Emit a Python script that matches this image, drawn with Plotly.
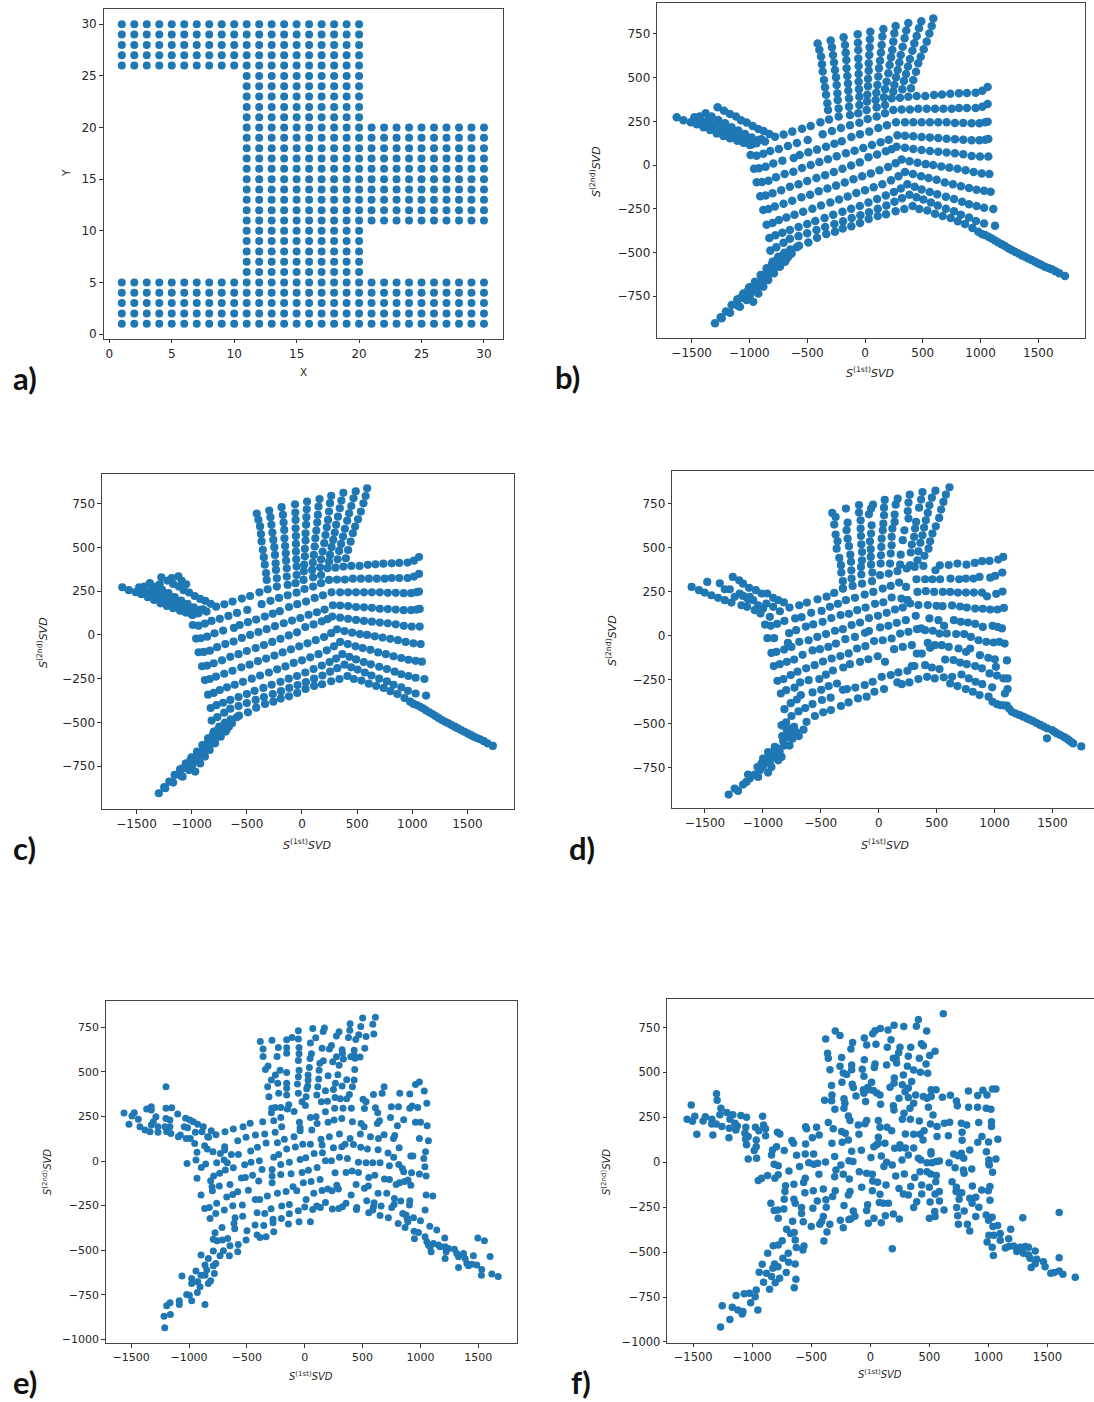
import plotly.graph_objects as go

W, H = 1094, 1402
BLUE = "#1f77b4"

# ---------- panel a: grid
X_ALL = [1,2,3,4,5,6,7,8,9,10,11,12,13,14,15,16,17,18,19,20,21,22,23,24,25,26,27,28,29,30]
X_MID = [11,12,13,14,15,16,17,18,19,20]
X_TOP = [1,2,3,4,5,6,7,8,9,10,11,12,13,14,15,16,17,18,19,20]
X_RIGHT = [11,12,13,14,15,16,17,18,19,20,21,22,23,24,25,26,27,28,29,30]
Y_BOTTOM = [1,2,3,4,5]
Y_NECK1 = [6,7,8,9,10]
Y_WING = [11,12,13,14,15,16,17,18,19,20]
Y_NECK2 = [21,22,23,24,25]
Y_TOPBAND = [26,27,28,29,30]

# ---------- panel b (and c): rows, arms
B_row1 = [(-779,162),(-704,175),(-629,191),(-545,208),(-470,223),(-386,244),(303,385),(375,391),(447,395),(522,395),(597,401),(666,404),(738,408),(813,410),(882,412),(957,414),(1015,425),(1061,446)]
B_row2 = [(-990,57),(-938,53),(-880,65),(-820,80),(-745,92),(-667,109),(-589,126),(-496,143),(-366,176),(-286,195),(-208,212),(-130,227),(-49,242),(23,263),(101,277),(173,296),(245,315),(317,317),(389,317),(461,322),(534,322),(606,322),(678,322),(750,322),(813,326),(882,326),(957,326),(1015,334),(1061,349)]
B_row3 = [(-960,-21),(-917,-19),(-860,-10),(-793,9),(-715,25),(-617,40),(-565,57),(-490,73),(-415,88),(-337,105),(-265,122),(-201,136),(-118,160),(-43,176),(37,191),(115,212),(190,227),(268,244),(346,244),(418,244),(490,244),(562,244),(634,244),(706,244),(778,241),(850,241),(922,239),(990,239),(1040,245),(1061,248)]
B_row4 = [(-937,-99),(-890,-97),(-835,-90),(-770,-70),(-695,-52),(-620,-38),(-545,-17),(-470,0),(-395,17),(-320,33),(-245,50),(-165,67),(-90,82),(-15,97),(60,115),(135,130),(205,145),(280,170),(346,168),(418,165),(490,160),(562,158),(634,155),(706,150),(778,148),(850,145),(922,142),(990,142),(1040,145),(1067,149)]
B_row5 = [(-906,-179),(-860,-175),(-800,-162),(-725,-145),(-650,-125),(-575,-110),(-500,-92),(-420,-75),(-345,-58),(-270,-40),(-195,-22),(-120,-3),(-45,15),(30,45),(105,60),(180,78),(230,90),(274,105),(346,99),(418,92),(490,86),(562,80),(634,76),(706,71),(778,67),(850,61),(923,52),(995,48),(1067,48)]
B_row6 = [(-880,-258),(-835,-252),(-780,-238),(-705,-222),(-630,-205),(-550,-185),(-475,-170),(-400,-150),(-325,-135),(-250,-118),(-175,-100),(-100,-82),(-25,-65),(50,-48),(125,-30),(200,-12),(265,10),(317,32),(385,22),(455,13),(525,5),(590,0),(660,-8),(730,-15),(800,-22),(870,-30),(940,-40),(1010,-48),(1076,-52)]
B_row7 = [(-851,-342),(-800,-332),(-745,-315),(-680,-300),(-610,-285),(-535,-268),(-455,-250),(-380,-232),(-300,-215),(-225,-197),(-150,-180),(-75,-160),(0,-145),(75,-128),(150,-110),(225,-88),(290,-65),(346,-40),(415,-52),(485,-65),(550,-75),(620,-85),(690,-100),(760,-110),(830,-122),(900,-132),(965,-142),(1030,-148),(1087,-153)]
B_row8 = [(-828,-418),(-775,-402),(-715,-388),(-650,-372),(-575,-355),(-500,-338),(-430,-320),(-350,-303),(-275,-285),(-195,-268),(-120,-250),(-45,-235),(30,-215),(105,-195),(180,-175),(250,-155),(310,-135),(366,-110),(430,-125),(490,-140),(560,-155),(625,-168),(700,-182),(770,-195),(840,-210),(900,-225),(965,-235),(1030,-245),(1110,-252)]
B_row9 = [(-819,-490),(-767,-470),(-705,-445),(-650,-422),(-575,-407),(-500,-390),(-420,-372),(-345,-355),(-265,-338),(-190,-322),(-115,-303),(-40,-287),(35,-270),(110,-250),(185,-232),(255,-210),(320,-190),(385,-170),(445,-185),(505,-198),(570,-215),(630,-232),(700,-250),(770,-265),(830,-285),(900,-300),(960,-320),(1030,-335),(1125,-347)]
B_row10 = [(-571,-462),(-490,-443),(-415,-416),(-335,-395),(-260,-382),(-193,-364),(-118,-351),(-43,-332),(32,-309),(110,-292),(182,-282),(265,-265),(340,-252),(412,-235),(470,-252),(539,-261),(606,-279),(672,-292),(741,-303),(802,-322),(865,-338),(929,-361),(980,-382),(1038,-401),(1096,-420),(1154,-443),(1211,-464),(1269,-487),(1327,-506),(1384,-525),(1442,-544),(1500,-563),(1557,-582),(1615,-597),(1681,-620),(1730,-635)]
B_arm2 = [(1010,-395),(1068,-410),(1125,-432),(1182,-453),(1240,-476),(1298,-497),(1355,-516),(1413,-535),(1471,-554),(1528,-572),(1586,-590),(1648,-608)]
B_top = [(-410,695),(-395,659),(-380,621),(-372,577),(-366,535),(-355,487),(-346,445),(-337,402),(-326,354),(-320,315),(-311,261),
(-297,712),(-286,674),(-277,630),(-268,586),(-260,544),(-251,502),(-245,458),(-239,410),(-236,372),(-228,324),(-228,277),
(-185,731),(-173,687),(-167,643),(-161,601),(-159,553),(-153,509),(-147,467),(-144,425),(-138,381),(-138,334),(-130,286),
(-63,748),(-61,700),(-58,658),(-58,610),(-55,566),(-55,521),(-55,477),(-52,433),(-49,391),(-49,343),(-58,296),
(46,763),(43,719),(40,674),(37,630),(32,582),(32,540),(26,493),(26,450),(20,402),(17,364),(14,315),
(159,778),(150,735),(144,687),(138,643),(130,597),(121,553),(115,506),(107,458),(98,414),(92,372),(101,330),
(265,796),(254,754),(245,706),(236,658),(225,616),(213,572),(202,525),(187,477),(173,433),(164,387),(173,343),
(375,813),(357,769),(343,725),(326,677),(309,630),(297,586),(283,544),(268,502),(254,458),(245,420),(231,382),
(487,822),(467,782),(447,738),(427,696),(410,654),(389,607),(372,563),(355,521),(337,481),(323,433),
(591,839),(577,795),(557,753),(534,706),(508,662),(482,620),(461,582),(441,534),(418,486),(398,439)]
B_left = [(-1275,330),(-1220,311),(-1168,292),(-1116,277),(-1073,256),(-1024,243),(-972,223),(-923,206),(-877,195),(-828,178),
(-1379,296),(-1327,277),(-1269,258),(-1211,239),(-1154,216),(-1096,197),(-1038,178),(-981,158),(-923,143),(-865,134),
(-1476,273),(-1421,254),(-1364,229),(-1312,210),(-1254,191),(-1197,172),(-1139,158),(-1082,143),(-1024,128),(-981,118),(-938,124),
(-1629,273),(-1571,256),(-1508,245),(-1456,233),(-1398,216),(-1341,200),(-1283,181),(-1225,166),(-1168,153),(-1105,139),(-1053,128),(-996,114),
(-1430,277),(-1358,258),(-1300,235),(-1242,216),(-1185,197),(-1127,181),(-1070,162),(-1012,147),(-955,134),(-897,147)]
B_foot = [(-1298,-906),(-1249,-871),(-1203,-839),(-1154,-801),(-1105,-769),(-1053,-735),(-1001,-700),(-952,-668),(-903,-630),(-851,-591),(-799,-553),(-750,-525),(-698,-502),(-646,-483),
(-1240,-877),(-1168,-845),(-1096,-807),(-1024,-773),(-967,-782),(-923,-735),(-880,-696),(-837,-658),(-788,-620),(-736,-582),(-684,-544),(-635,-506),(-591,-471),
(-1082,-763),(-1010,-715),(-952,-677),(-894,-639),(-851,-610),(-808,-572),(-764,-544),(-707,-515),
(-1082,-811),(-1024,-763),(-981,-725),(-932,-693),(-880,-658),(-828,-624),(-771,-582),(-721,-553),(-663,-525),
(-995,-744),(-943,-712),(-894,-673),(-851,-639),(-793,-601),(-750,-572),(-692,-553)]
B_pts = B_row1+B_row2+B_row3+B_row4+B_row5+B_row6+B_row7+B_row8+B_row9+B_row10+B_arm2+B_top+B_left+B_foot
C_extra = [(-1180,325),(-1120,335),(-1290,290),(-1090,310),(-1050,290)]
C_pts = B_pts + C_extra

# ---------- panel d
D_top = [(-401,697),(-372,674),(-384,631),(-372,574),(-355,536),(-340,441),(-363,494),(-326,400),(-323,358),(-309,309),(-309,267),
(-283,722),(-268,642),(-277,599),(-268,551),(-257,508),(-245,460),(-239,419),(-236,371),(-234,324),(-225,282),
(-170,742),(-170,699),(-156,655),(-156,608),(-153,566),(-150,519),(-144,475),(-144,428),(-153,390),(-150,347),(-144,295),
(-49,744),(-66,722),(-84,689),(-61,627),(-66,580),(-75,536),(-69,491),(-69,447),(-66,403),(-55,358),(-58,309),
(52,771),(46,727),(46,684),(40,636),(35,598),(26,551),(23,504),(20,456),(17,409),(12,343),
(164,778),(147,744),(138,688),(138,646),(118,608),(112,561),(112,513),(104,466),(98,409),(87,352),
(268,801),(257,756),(251,708),(257,665),(222,598),(208,542),(190,460),(185,403),(162,366),
(378,816),(366,773),(349,727),(323,646),(314,608),(306,561),(286,517),(277,472),(271,400),(242,381),
(490,824),(459,784),(438,741),(424,697),(407,655),(392,614),(378,570),(360,527),(343,479),(335,428),(311,390),
(611,843),(580,801),(559,760),(539,716),(522,669),(493,621),(464,580),(444,536),(430,494),(395,453),(386,396)]
D_right = [(490,371),(528,399),(605,401),(680,409),(758,403),(830,413),(893,423),(957,424),(1032,432),(1075,447),
(326,320),(401,320),(464,320),(530,320),(620,324),(695,320),(753,324),(819,324),(871,333),(963,329),(1006,339),(1067,358),
(335,248),(407,252),(479,248),(554,248),(617,248),(684,244),(753,244),(822,244),(892,244),(935,223),(1015,237),(1069,250),
(248,201),(271,182),(343,173),(424,173),(499,169),(551,167),(634,171),(703,165),(761,159),(833,153),(899,152),(963,148),(1026,148),(1081,157),
(320,112),(438,97),(516,87),(649,87),(709,78),(770,74),(833,66),(899,49),(983,55),(1026,49),(1064,40),(565,55),
(331,36),(366,40),(400,30),(467,27),(525,11),(588,11),(669,8),(738,8),(796,-8),(862,-27),(929,-36),(992,-40),(1041,-36),(1087,-46),
(329,-103),(372,-103),(424,-42),(444,-70),(487,-55),(545,-55),(605,-65),(689,-74),(755,-93),(790,-74),(874,-112),(946,-127),(1003,-135),(1107,-142),
(401,-169),(459,-182),(525,-191),(574,-137),(646,-140),(703,-154),(761,-163),(833,-174),(891,-187),(957,-216),(1012,-178),(1021,-228),(1078,-244),(1113,-244),
(343,-248),(418,-235),(484,-244),(562,-238),(634,-235),(715,-222),(778,-244),(836,-263),(894,-277),(980,-295),(1090,-330),(1113,-305),
(617,-273),(680,-288),(752,-305),(813,-320),(871,-339),(949,-348),(983,-377),(1049,-396),(1107,-399),(1150,-434),(1217,-453),(1280,-472),(1332,-487),(1395,-509),(1453,-528),(1496,-538),(1540,-557),(1597,-576),(1641,-595),(1679,-614),(1749,-631),(1453,-585),
(1020,-390),(1078,-398),(1128,-417),(1184,-444),(1248,-462),(1306,-480),(1364,-498),(1424,-518),(1518,-548),(1568,-566),(1620,-585),(1660,-605)]
D_left = [(-770,159),(-686,172),(-620,187),(-528,206),(-450,221),(-384,242),(-309,267),
(-981,62),(-932,55),(-877,66),(-814,83),(-721,97),(-666,104),(-583,129),(-493,140),(-421,163),(-352,180),(-283,201),(-205,214),(-121,233),(-46,248),(35,267),(104,282),(176,301),(236,276),
(-961,-15),(-903,-15),(-773,13),(-713,30),(-629,51),(-565,63),(-484,78),(-409,99),(-329,116),(-257,123),(-185,144),(-113,159),(-32,180),(40,189),(112,216),(196,210),
(-926,-99),(-883,-93),(-816,-80),(-784,-42),(-753,-65),(-686,-36),(-605,-27),(-530,-8),(-455,8),(-378,27),(-309,36),(-234,59),(-161,74),(-84,99),(-6,112),(69,129),(141,148),(208,159),(248,201),
(-906,-174),(-854,-163),(-793,-150),(-730,-137),(-657,-110),(-571,-85),(-507,-78),(-435,-65),(-369,-46),(-288,-21),(-205,-8),(-118,15),(-84,25),(12,46),(84,55),(156,72),(234,87),
(-874,-258),(-822,-248),(-759,-225),(-701,-206),(-626,-187),(-553,-169),(-481,-148),(-406,-131),(-331,-117),(-259,-102),(-187,-74),(-115,-61),(-40,-32),(35,-27),(112,-17),(185,11),(257,21),
(-845,-330),(-799,-311),(-727,-297),(-678,-267),(-605,-254),(-513,-248),(-456,-223),(-395,-199),(-306,-182),(-248,-163),(-161,-150),(-89,-135),(-9,-118),(55,-150),(133,-78),(208,-65),(286,-55),
(-814,-419),(-759,-385),(-707,-364),(-672,-339),(-571,-324),(-496,-309),(-432,-288),(-360,-273),(-309,-309),(-274,-305),(-202,-296),(-121,-282),(-52,-263),(26,-235),(104,-225),(170,-210),(248,-201),(286,-174),(308,-174),
(-828,-510),(-799,-494),(-753,-458),(-692,-432),(-634,-413),(-571,-390),(-490,-367),(-415,-354),
(-623,-491),(-551,-458),(-479,-437),(-413,-424),(-326,-401),(-260,-381),(-179,-358),(-104,-348),(-37,-320),(46,-305),(161,-267),(199,-277),(265,-267)]
D_arm = [(-1615,276),(-1552,258),(-1503,244),(-1480,305),(-1445,229),(-1387,214),(-1372,297),(-1329,263),(-1329,201),(-1271,187),(-1286,263),(-1260,333),(-1205,314),(-1171,295),(-1119,271),(-1061,258),(-1012,239),(-963,239),(-911,214),(-868,201),(-819,188),(-1200,239),(-1185,172),(-1128,206),(-1136,163),(-1084,201),(-1070,144),(-1021,125),(-970,182),(-940,106),(-998,153),(-911,163),(-853,138),(-1243,220),(-1171,225),(-1113,220),(-1041,172),
(-1295,-905),(-1243,-871),(-1214,-884),(-1171,-848),(-1142,-833),(-1128,-791),(-1113,-814),(-1070,-791),(-1041,-805),(-1047,-748),(-1012,-729),(-998,-700),(-955,-663),(-955,-780),(-926,-748),(-911,-691),(-897,-634),(-868,-710),(-839,-691),(-833,-572),(-796,-530),(-770,-626),(-756,-530),(-713,-549),(-690,-572),(-649,-536),(-816,-626),(-1026,-767),(-969,-719),(-926,-672),(-882,-682),(-810,-568),(-744,-587),(-839,-511),
(-1000,-745),(-975,-700),(-940,-725),(-905,-660),(-880,-640),(-855,-660),(-825,-600),(-790,-580),(-770,-560),(-730,-520)]
D_pts = D_top+D_right+D_left+D_arm

# ---------- panel e
E_upper = [(611,806),(501,802),(588,767),(484,754),(392,770),(389,733),(170,746),(159,727),(69,744),(-55,731),(597,712),(297,725),(274,701),(378,693),(467,709),(441,682),(530,699),(95,691),(49,662),(-55,684),(-110,693),(-156,680),(-283,677),(-384,671),(-49,637),(-228,637),(-156,635),(-360,628),(-360,587),(-239,587),(-156,604),(150,632),(231,648),(213,628),(323,624),(427,622),(519,632),(427,592),(-49,602),(58,602),(46,575),(-55,564),(326,604),(478,583),(435,576),(398,585),(274,585),(334,572),(242,557),(161,563),(130,548),(297,537),(-317,533),(-340,514),(-213,510),(-254,482),(-156,497),(-49,510),(40,525),(124,510),(432,514),(202,479),(-55,473),(29,482),(286,484),(-156,437),(-288,454),(-233,436),(-63,432),(29,454),(121,460),(363,456),(427,454),(-320,417),(-156,409),(26,421),(112,417),(265,436),(323,421),(412,417),(179,394),(248,402),(-55,380),(17,406),(-225,380),(-156,370),(-309,361),(12,361),(104,370),(262,357),(308,350),(363,350),(386,374),(-23,333),(144,333),(196,336),(594,374),(669,380),(686,417),(821,380),(908,376),(957,430),(991,443),(1033,393),(6,312),(-138,316),(1055,324),(504,346),(530,333),(516,295),(611,299),(631,271),(749,305),(810,305),(908,296),(977,301),(928,309),(-285,296),(-256,301),(-207,301),(-288,271),(-150,292),(-92,278),(179,277),(259,296),(331,296),(403,296),(741,245),(646,226),(628,211),(855,232),(957,217),(1001,217),(1058,198),(-207,245),(49,245),(98,249),(107,211),(-268,226),(-363,221),(-472,212),(-533,193),(-46,217),(202,217),(254,230),(320,239),(412,221),(487,211),(513,193),(801,198),(-199,193),(-617,180),(-689,165),(-40,170),(61,174),(-40,187)]
E_mid = [(-256,161),(-346,152),(-426,146),(-507,133),(-579,114),(-767,148),(-831,133),(-808,170),(-92,136),(-176,123),(213,137),(141,123),(300,152),(392,127),(481,152),(568,137),(637,127),(686,148),(778,144),(767,127),(991,127),(1069,114),(-334,101),(-236,103),(-409,77),(-467,56),(-573,37),(-634,37),(-692,80),(-692,62),(-865,86),(-842,67),(-931,49),(-793,52),(-729,43),(-156,67),(-81,79),(-17,95),(49,95),(150,90),(248,75),(320,80),(349,95),(421,93),(484,77),(542,67),(634,64),(816,75),(720,45),(769,21),(917,28),(935,28),(1044,52),(1029,15),(81,43),(153,47),(300,21),(369,15),(-268,21),(-225,37),(-40,9),(9,19),(179,2),(231,2),(464,-7),(530,-9),(588,-9),(651,-9),(732,-26),(813,-19),(844,-41),(855,-60),(923,-65),(1038,-32),(991,-73),(1049,-84),(-392,2),(-464,-7),(-519,-21),(-207,-19),(-133,-7),(107,-36),(-697,6),(-669,-9),(-761,-9),(-856,-17),(-894,-36),(-940,6),(-1017,-13),(-617,-37),(-369,-47),(-282,-47),(32,-52),(-23,-64),(-118,-71),(-207,-75),(-282,-84),(262,-65),(357,-64),(409,-56),(464,-64),(605,-80),(553,-92),(-686,-50),(-735,-69),(-787,-84),(-813,-110),(-931,-97),(-450,-80),(-513,-92),(-547,-95),(-398,-112),(-282,-122),(-12,-122),(55,-114),(133,-103),(689,-101),(732,-103),(790,-131),(818,-122),(862,-114),(893,-106),(917,-136),(-646,-131),(-738,-140),(-801,-144),(-798,-167),(444,-131),(550,-140),(516,-153),(-101,-144),(-69,-166),(-487,-163),(-579,-172),(-622,-187),(-674,-202),(-896,-191),(-236,-181),(-161,-170),(78,-181),(150,-165),(199,-157),(236,-166),(291,-157),(277,-135),(401,-191),(634,-181),(709,-181),(1049,-191),(1107,-196),(12,-215),(-427,-215),(-389,-215),(-323,-196),(775,-210),(830,-224),(908,-223),(536,-223),(599,-234)]
E_lower = [(-761,-237),(-865,-266),(-824,-260),(-539,-247),(-622,-251),(-199,-252),(-133,-243),(0,-258),(104,-252),(179,-232),(69,-271),(135,-260),(357,-237),(326,-256),(294,-266),(239,-269),(594,-256),(660,-252),(772,-243),(752,-260),(905,-247),(450,-260),(447,-271),(-695,-275),(-769,-294),(1040,-275),(-412,-290),(-346,-294),(-291,-267),(-133,-295),(-55,-279),(553,-290),(588,-275),(651,-305),(723,-318),(847,-294),(876,-303),(-818,-322),(-536,-309),(-602,-318),(-274,-327),(-202,-322),(885,-322),(940,-318),(1000,-335),(-49,-340),(49,-340),(-141,-353),(-274,-346),(-611,-350),(-429,-359),(-354,-361),(807,-350),(867,-372),(1081,-365),(891,-340),(-715,-372),(-605,-380),(-499,-391),(-775,-402),(-268,-396),(1141,-387),(945,-393),(983,-400),(-412,-415),(-386,-428),(-334,-424),(948,-436),(1040,-424),(-507,-443),(-790,-439),(-758,-447),(-712,-443),(-666,-434),(1055,-453),(1496,-432),(1553,-447),(1210,-432),(-574,-468),(-646,-475),(1069,-471),(1112,-462),(1156,-471),(1213,-481),(-790,-505),(-703,-503),(-579,-509),(1084,-481),(1170,-481),(1242,-490),(1294,-494),(-896,-527),(-732,-531),(-651,-531),(1092,-509),(1222,-509),(1314,-518),(1372,-518),(1458,-531),(1602,-535),(1213,-546),(1329,-537),(1386,-546),(-833,-546),(-769,-574),(-790,-587),(-862,-583),(1401,-574),(1444,-578),(1487,-583),(1329,-597),(-940,-617),(-847,-611),(-896,-640),(-781,-630),(1530,-608),(1415,-587),(1527,-640),(1617,-634),(1672,-647),(-1061,-645),(-977,-658),(-862,-640),(-977,-686),(-925,-677),(-813,-671),(-833,-686),(-905,-705),(-928,-737),(-1020,-748),(-997,-752),(-977,-784),(-1084,-784),(-1084,-804),(-1164,-795),(-1193,-812),(-862,-804),(-1216,-870),(-1161,-860),(-1210,-935)]
E_arm = [(-1562,270),(-1473,271),(-1493,253),(-1519,206),(-1438,234),(-1424,193),(-1380,174),(-1337,165),(-1326,202),(-1366,292),(-1326,305),(-1326,286),(-1199,296),(-1150,299),(-1199,417),(-1098,264),(-1286,249),(-1309,221),(-1268,193),(-1268,161),(-1199,239),(-1165,230),(-1208,193),(-1165,193),(-1193,165),(-1156,155),(-1092,137),(-1029,240),(-992,230),(-963,221),(-925,206),(-876,193),(-1041,193),(-1012,187),(-1075,146),(-1024,127),(-989,127),(-951,99),(-945,161),(-888,165),(-839,137)]
E_all = E_upper + E_mid + E_lower + E_arm

# ---------- panel f
F_body = [(618,827),(407,794),(390,757),(283,755),(201,763),(477,731),(150,736),(85,745),(40,732),(20,715),(-297,730),(-257,705),(-378,686),(-51,692),(175,682),(-150,667),(-31,652),(48,657),(432,659),(251,640),(144,640),(-164,631),(342,640),(449,648),(548,618),(503,594),(-362,607),(-356,579),(-243,583),(322,590),(240,609),(218,579),(195,579),(415,579),(-51,570),(223,553),(40,547),(138,542),(472,547),(-257,534),(-158,542),(314,535),(34,527),(-342,515),(-158,515),(-68,518),(367,514),(424,501),(486,495),(-229,497),(-201,488),(-54,479),(280,486),(203,469),(-240,445),(11,445),(350,449),(-328,427),(-153,434),(201,440),(167,418),(-23,416),(-144,416),(271,431),(322,414),(515,403),(557,403),(831,397),(953,401),(1035,408),(1063,408),(-59,404),(-8,404),(26,399),(54,386),(-325,375),(-54,384),(294,393),(-121,369),(82,375),(909,371),(988,375),(322,360),(384,375),(449,366),(514,367),(610,362),(678,373),(-387,345),(-328,343),(-223,354),(243,356),(480,356),(514,366),(-40,338),(729,341),(-215,328),(87,323),(195,315),(367,328),(737,315),(832,306),(908,306),(981,301),(1021,295),(-1302,381),(-1297,345),(-1516,319),(-300,295),(-223,301),(200,291),(492,306),(336,301),(531,263),(285,273),(-186,258),(-172,232),(271,239),(339,239),(415,230),(627,217),(672,223),(771,217),(816,208),(918,221),(1026,226),(1026,199),(-356,221),(-102,208),(-31,232),(-45,215),(68,232),(82,195),(509,213),(565,199),(141,195),(181,176),(-548,198),(-540,186),(-455,195),(-314,186),(-243,171),(-212,162),(455,176),(421,156),(367,156),(297,158),(-96,156),(777,167),(-786,167),(-766,158),(-433,152),(-491,137),(68,139),(565,143),(661,147),(777,122),(1080,128),(945,143),(910,111),(1001,113),(-186,124),(-238,111),(-325,106),(-664,121),(-650,106),(-548,102),(68,106),(124,106),(54,97),(446,124),(251,97),(206,78),(30,87),(251,80),(297,80),(367,80),(-794,87),(-828,69),(-729,65),(842,69),(983,59),(-158,61),(-76,67),(-551,46),(-480,46),(-624,39),(514,59),(514,46),(322,41),(93,35),(6,26),(-302,32),(-836,41),(706,46),(771,50),(743,37),(791,22),(407,22),(427,13),(-1034,18),(1063,18),(1004,13),(1004,-9),(268,13),(-379,2),(-181,9),(-147,4),(-521,-2),(-478,-11),(-446,-6),(-814,-11),(-780,-19),(-599,-24),(667,-2),(718,-30),(480,-2),(522,-2),(558,4),(585,7),(138,0),(115,-24),(186,-15),(1007,-15),(-249,-15),(-291,-43),(-689,-48),(-93,-52),(-31,-61),(17,-67),(859,-37),(788,-43),(794,-61),(1035,-56),(421,-52),(480,-52),(511,-65),(559,-74),(-780,-70),(-808,-89),(-870,-74),(-921,-89),(-949,-102),(288,-65),(215,-76),(376,-85),(-229,-67),(-302,-80),(-178,-93),(20,-104),(62,-111),(-435,-67),(-551,-89),(-565,-113),(554,-108),(692,-108),(-647,-122),(-718,-130),(133,-126),(-73,-139),(243,-146),(342,-135),(435,-126),(500,-139),(729,-139),(726,-163),(864,-132),(943,-154),(1013,-135),(999,-159),(-398,-148),(-297,-158),(17,-158),(-723,-163),(-554,-169),(-483,-158),(-172,-163),(-186,-182),(82,-178),(280,-176),(322,-182),(435,-176),(584,-163),(548,-176),(751,-169),(774,-169),(-319,-191),(-647,-206),(-729,-206),(-449,-215),(-376,-209),(752,-206),(842,-200),(893,-195),(1013,-211),(-842,-228),(-814,-269),(-785,-265),(393,-219),(506,-221),(585,-215),(862,-228),(76,-224),(110,-228),(153,-228),(-23,-237),(-31,-269),(-223,-241),(-636,-228),(-582,-252),(-732,-260),(-373,-250),(-486,-256),(367,-252),(731,-252),(919,-250),(-582,-285),(624,-265),(795,-271),(545,-274),(1599,-280),(-144,-271),(-780,-311),(-568,-331),(127,-297),(195,-288),(-130,-300),(-167,-315),(31,-311),(-398,-302),(-412,-330),(-181,-319),(246,-315),(740,-298),(893,-302),(981,-293),(1032,-306),(548,-302),(500,-311),(1001,-322),(-658,-328),(-254,-322),(-17,-339),(93,-336),(-428,-345),(-343,-345),(-500,-358),(-229,-365),(746,-345),(822,-345),(1078,-352),(1291,-308),(1038,-358),(842,-382),(1189,-373),(-709,-373),(-644,-391),(-675,-397),(-367,-388),(1100,-397),(-746,-436),(-636,-432),(-393,-438),(1004,-406),(1046,-406),(1100,-434),(989,-444),(1172,-425),(-822,-465),(-780,-460),(-562,-466),(-627,-474),(-571,-488),(186,-481),(1143,-477),(1172,-469),(1214,-466),(1032,-473),(1268,-473),(1311,-469),(1339,-473),(1396,-494),(-869,-506),(-695,-506),(1240,-497),(1296,-506),(1339,-516),(1353,-534),(1410,-540),(1599,-531),(1042,-519),(-740,-534),(-692,-556),(-636,-566),(1466,-553),(1396,-564),(1362,-586),(1480,-582),(-915,-568),(-811,-566),(-825,-590),(-782,-581),(-712,-614),(-941,-612),(-879,-618),(-836,-636),(-768,-645),(1599,-605),(1528,-618),(1557,-614),(1631,-623),(1735,-640),(-904,-668),(-805,-670),(-630,-651),(-853,-707),(-644,-698),(-966,-711),(-1136,-742),(-1068,-731),(-1023,-729),(-975,-748),(-1013,-781),(-1254,-798),(-1169,-807),(-1121,-822),(-1079,-831),(-1085,-844),(-952,-822),(-1189,-875),(-1268,-917)]
F_arm = [(-1551,240),(-1486,256),(-1506,228),(-1416,230),(-1397,254),(-1342,239),(-1342,213),(-1305,213),(-1257,199),(-1469,156),(-1333,152),(-1265,301),(-1274,264),(-1215,277),(-1164,264),(-1096,260),(-1048,251),(-912,256),(-1189,239),(-1194,189),(-1197,137),(-1147,217),(-1127,202),(-1138,180),(-1054,195),(-1062,162),(-1034,143),(-973,195),(-904,208),(-887,186),(-887,147),(-966,124),(-944,176),(-1048,97),(-983,65),(-963,22),(-1056,128),(-966,87)]
F_pts = F_body + F_arm

# ---------- axis tick values
X_TICKS_A = [0,5,10,15,20,25,30]
Y_TICKS_A = [0,5,10,15,20,25,30]
X_TICKS_S = [-1500,-1000,-500,0,500,1000,1500]
Y_TICKS_S = [-750,-500,-250,0,250,500,750]
Y_TICKS_L = [-1000,-750,-500,-250,0,250,500,750]

A_x = [x for x in X_ALL for y in Y_BOTTOM] + [x for x in X_MID for y in Y_NECK1] + [x for x in X_RIGHT for y in Y_WING] + [x for x in X_MID for y in Y_NECK2] + [x for x in X_TOP for y in Y_TOPBAND]
A_y = [y for x in X_ALL for y in Y_BOTTOM] + [y for x in X_MID for y in Y_NECK1] + [y for x in X_RIGHT for y in Y_WING] + [y for x in X_MID for y in Y_NECK2] + [y for x in X_TOP for y in Y_TOPBAND]

def xy(p):
    return [a for a, b in p], [b for a, b in p]

panels = [
    dict(x=A_x, y=A_y, box=(103.7,502.7,9.3,338.7), xr=(-0.45,31.5), yr=(-0.45,31.45), xt=X_TICKS_A, yt=Y_TICKS_A, fs=12, ms=8, mirror=True),
    dict(x=xy(B_pts)[0], y=xy(B_pts)[1], box=(657.3,1085.3,3,338), xr=(-1797,1906), yr=(-990,927), xt=X_TICKS_S, yt=Y_TICKS_S, fs=12, ms=8.5, mirror=True),
    dict(x=xy(C_pts)[0], y=xy(C_pts)[1], box=(102,514,474,809), xr=(-1813,1922), yr=(-996,921), xt=X_TICKS_S, yt=Y_TICKS_S, fs=12, ms=8.2, mirror=True),
    dict(x=xy(D_pts)[0], y=xy(D_pts)[1], box=(672.3,1094,471.3,808.3), xr=(-1782,1859), yr=(-983,934), xt=X_TICKS_S, yt=Y_TICKS_S, fs=12, ms=8.2, mirror=False),
    dict(x=xy(E_all)[0], y=xy(E_all)[1], box=(105.7,517.3,1001.3,1343.3), xr=(-1720,1837), yr=(-1022,896), xt=X_TICKS_S, yt=Y_TICKS_L, fs=11, ms=7, mirror=True),
    dict(x=xy(F_pts)[0], y=xy(F_pts)[1], box=(667.3,1094,999.3,1342.7), xr=(-1719,1894), yr=(-1004,907), xt=X_TICKS_S, yt=Y_TICKS_L, fs=11.5, ms=7.5, mirror=False),
]

fig = go.Figure()
layout = {}
for i, p in enumerate(panels, 1):
    s = "" if i == 1 else str(i)
    fig.add_trace(go.Scatter(x=p["x"], y=p["y"], mode="markers", xaxis=f"x{s}", yaxis=f"y{s}",
                             marker=dict(color=BLUE, size=p["ms"], line=dict(width=0)), hoverinfo="skip", showlegend=False))
    l, r, t, b = p["box"]
    common = dict(showgrid=False, zeroline=False, showline=True, linecolor="#444444", linewidth=1.1, automargin=False,
                  ticks="outside", ticklen=3.5, tickwidth=0.8, tickcolor="#333333",
                  tickfont=dict(family="DejaVu Sans", size=p["fs"], color="#262626"))
    layout[f"xaxis{s}"] = dict(common, domain=[l/W, r/W], range=list(p["xr"]), tickmode="array", tickvals=p["xt"],
                               anchor=f"y{s}", mirror=True)
    layout[f"yaxis{s}"] = dict(common, domain=[1-b/H, 1-t/H], range=list(p["yr"]), tickmode="array", tickvals=p["yt"],
                               anchor=f"x{s}", mirror=p["mirror"])

S1 = "<i>S</i><sup>(1st)</sup><i>SVD</i>"
S2 = "<i>S</i><sup>(2nd)</sup><i>SVD</i>"
texts = [("X",303,372,0,10.5),("Y",66,173,-90,10.5),
         (S1,870,373,0,11),(S2,596,171,-90,11),
         (S1,307,845,0,11),(S2,43,643,-90,11),
         (S1,885,845,0,11),(S2,611,641,-90,11),
         (S1,311,1376,0,10),(S2,47,1172,-90,10),
         (S1,880,1374,0,10),(S2,606,1172,-90,10)]
ann = [dict(text=t, x=px/W, y=1-py/H, xref="paper", yref="paper", showarrow=False, textangle=a,
            xanchor="center", yanchor="middle", font=dict(family="DejaVu Sans", size=fs, color="#262626"))
       for t, px, py, a, fs in texts]
labels = [("a)",25,378),("b)",568,377),("c)",24,848),("d)",582,848),("e)",25,1382),("f)",581,1382)]
ann += [dict(text=f"<b>{t}</b>", x=px/W, y=1-py/H, xref="paper", yref="paper", showarrow=False,
             xanchor="center", yanchor="middle", font=dict(family="Lato", size=31, color="#111111"))
        for t, px, py in labels]

fig.update_layout(width=W, height=H, margin=dict(l=0, r=0, t=0, b=0, pad=0), paper_bgcolor="white", plot_bgcolor="white",
                  annotations=ann, **layout)
fig.write_html("out.html", config=dict(displayModeBar=False),
               post_script="document.body.style.margin='0';document.body.style.overflow='hidden';")
